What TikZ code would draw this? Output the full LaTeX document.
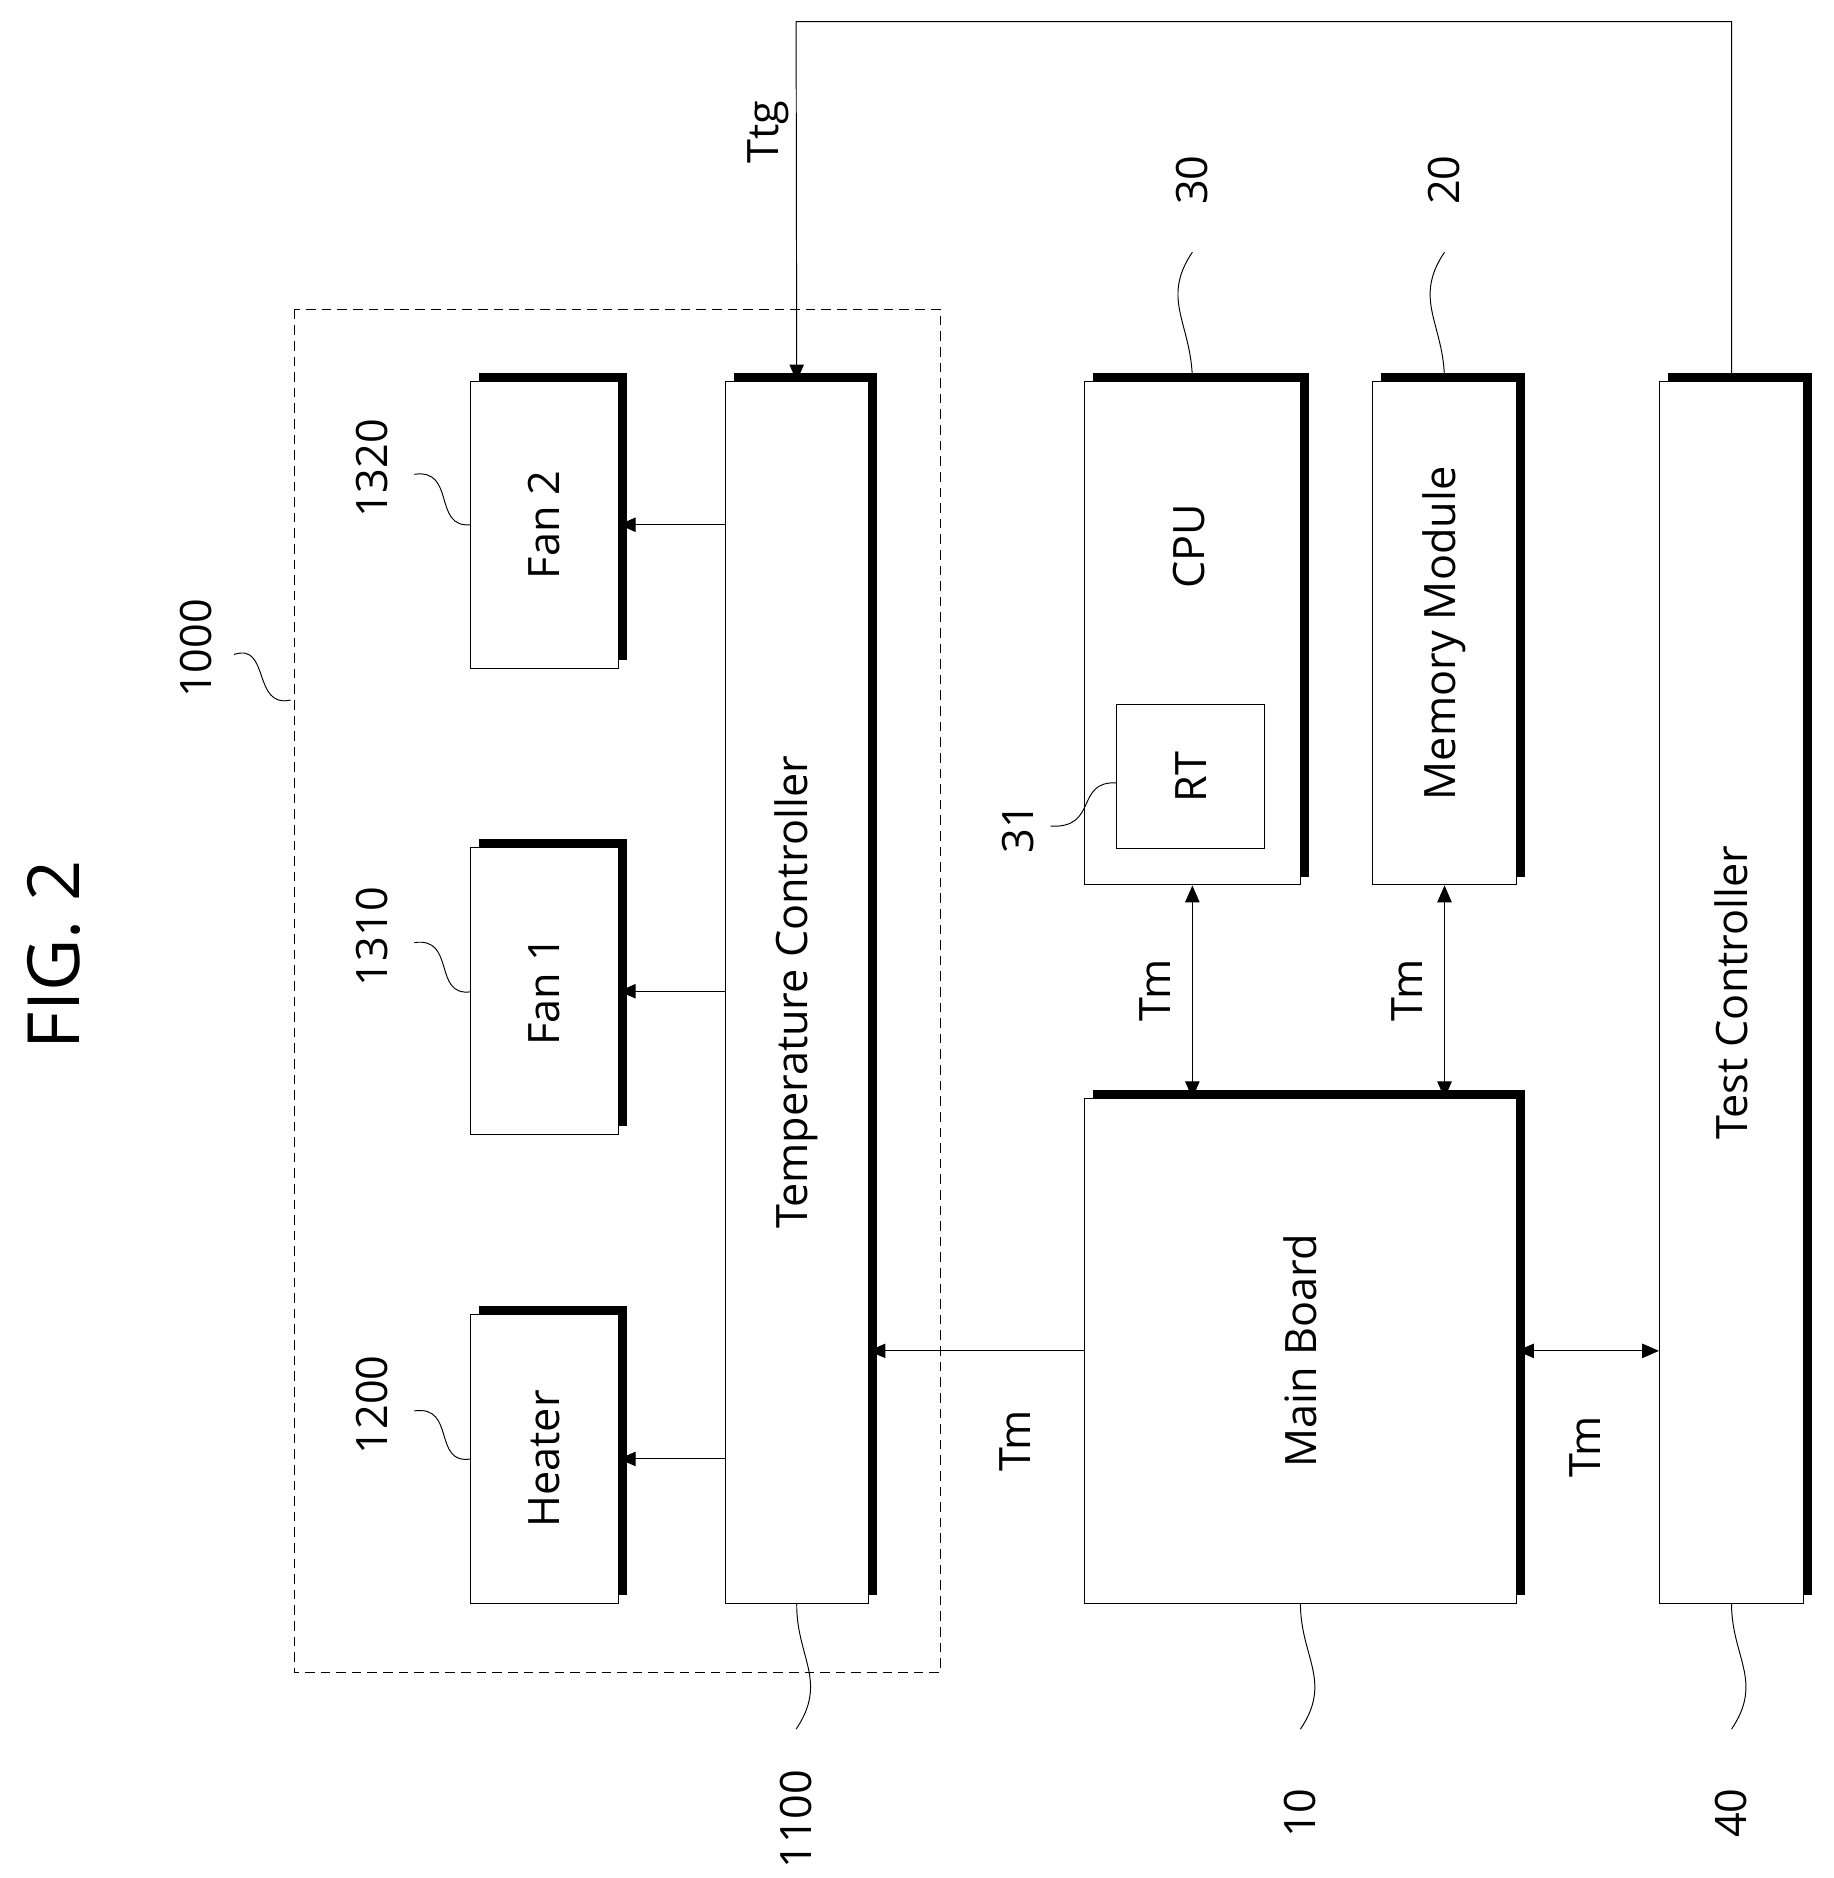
\documentclass[tikz,border=0pt]{standalone}
\usepackage{fontspec}
\setmainfont{Open Sans}
\usepackage{graphicx}
\usetikzlibrary{shadows,arrows.meta}
\newcommand\rtx[1]{\rotatebox{90}{#1}}
\begin{document}
\begin{tikzpicture}[x=1pt,y=-1pt,
  box/.style={draw,thick,fill=white,inner sep=0pt,font=\fontsize{36}{40}\selectfont,general shadow={fill=black,shadow xshift=7pt,shadow yshift=7pt}},
  plain/.style={draw,thick,fill=white,inner sep=0pt,font=\fontsize{36}{40}\selectfont},
  txt/.style={font=\fontsize{36}{40}\selectfont,inner sep=0pt},
  ar/.style={thick,-{Triangle[length=14pt,width=12pt]}},
  dar/.style={thick,{Triangle[length=14pt,width=12pt]}-{Triangle[length=14pt,width=12pt]}},
  sq/.style={thick}]
\useasboundingbox (0,0) rectangle (1527,1564);
\node[txt,font=\fontsize{60}{66}\selectfont] (fig) at (45,795) {\rtx{FIG. 2}};
\draw[thick,dash pattern=on 8pt off 5pt] (245,258) rectangle (783,1393);
% boxes
\node[box,minimum width=123pt,minimum height=240pt] (heater) at (453.5,1215) {\rtx{Heater}};
\node[box,minimum width=123pt,minimum height=239pt] (fan1) at (453.5,825.5) {\rtx{Fan 1}};
\node[box,minimum width=123pt,minimum height=239pt] (fan2) at (453.5,437) {\rtx{Fan 2}};
\node[box,minimum width=119pt,minimum height=1017pt] (tc) at (663.5,826.5) {\rtx{Temperature Controller}};
\node[box,minimum width=180pt,minimum height=419pt] (cpu) at (993,527.5) {};
\node[txt] (cputxt) at (990,455) {\rtx{CPU}};
\node[plain,minimum width=123pt,minimum height=120pt] (rt) at (991.5,647) {\rtx{RT}};
\node[box,minimum width=120pt,minimum height=419pt] (mem) at (1203,527.5) {\rtx{Memory Module}};
\node[box,minimum width=360pt,minimum height=420pt] (mb) at (1083,1125) {\rtx{Main Board}};
\node[box,minimum width=120pt,minimum height=1017pt] (test) at (1442,826.5) {\rtx{Test Controller}};
% arrows
\draw[ar] (tc.west |- heater) -- (heater.east);
\draw[ar] (tc.west |- fan1) -- (fan1.east);
\draw[ar] (tc.west |- fan2) -- (fan2.east);
\draw[ar] (mb.west) -- (tc.east |- mb.west);
\draw[dar] (mb.east) -- (test.west |- mb.east);
\draw[dar] (cpu.south) -- (cpu.south |- mb.north);
\draw[dar] (mem.south) -- (mem.south |- mb.north);
\coordinate (t1) at (1442,18);
\coordinate (t2) at (663,18);
\draw[ar] (test.north) -- (t1) -- (t2) -- (tc.north);
% signal labels
\node[txt] (l1) at (845,1200) {\rtx{Tm}};
\node[txt] (l2) at (1320,1205) {\rtx{Tm}};
\node[txt] (l3) at (962,825) {\rtx{Tm}};
\node[txt] (l4) at (1172,825) {\rtx{Tm}};
\node[txt] (l5) at (640,110) {\rtx{Ttg}};
% reference labels
\node[txt] (r1000) at (163,540) {\rtx{1000}};
\node[txt] (r1320) at (310,390) {\rtx{1320}};
\node[txt] (r1310) at (310,780) {\rtx{1310}};
\node[txt] (r1200) at (310,1170) {\rtx{1200}};
\node[txt] (r1100) at (663,1515) {\rtx{1100}};
\node[txt] (r10) at (1083,1510) {\rtx{10}};
\node[txt] (r40) at (1442,1510) {\rtx{40}};
\node[txt] (r30) at (993,150) {\rtx{30}};
\node[txt] (r20) at (1203,150) {\rtx{20}};
\node[txt] (r31) at (848,690) {\rtx{31}};
% squiggles
\draw[sq] (195,545) .. controls (225,535) and (210,590) .. (242,583);
\draw[sq] (345,395) .. controls (380,390) and (360,440) .. (392,437);
\draw[sq] (345,785) .. controls (380,780) and (360,830) .. (392,826);
\draw[sq] (345,1175) .. controls (380,1170) and (360,1220) .. (392,1215);
\draw[sq] (tc.south) .. controls (663,1380) and (690,1400) .. (663,1440);
\draw[sq] (mb.south) .. controls (1083,1380) and (1110,1400) .. (1083,1440);
\draw[sq] (test.south) .. controls (1442,1380) and (1469,1400) .. (1442,1440);
\draw[sq] (cpu.north) .. controls (993,270) and (966,250) .. (993,210);
\draw[sq] (mem.north) .. controls (1203,270) and (1176,250) .. (1203,210);
\draw[sq] (875,688) .. controls (915,690) and (895,650) .. (930,652);
\end{tikzpicture}
\end{document}
